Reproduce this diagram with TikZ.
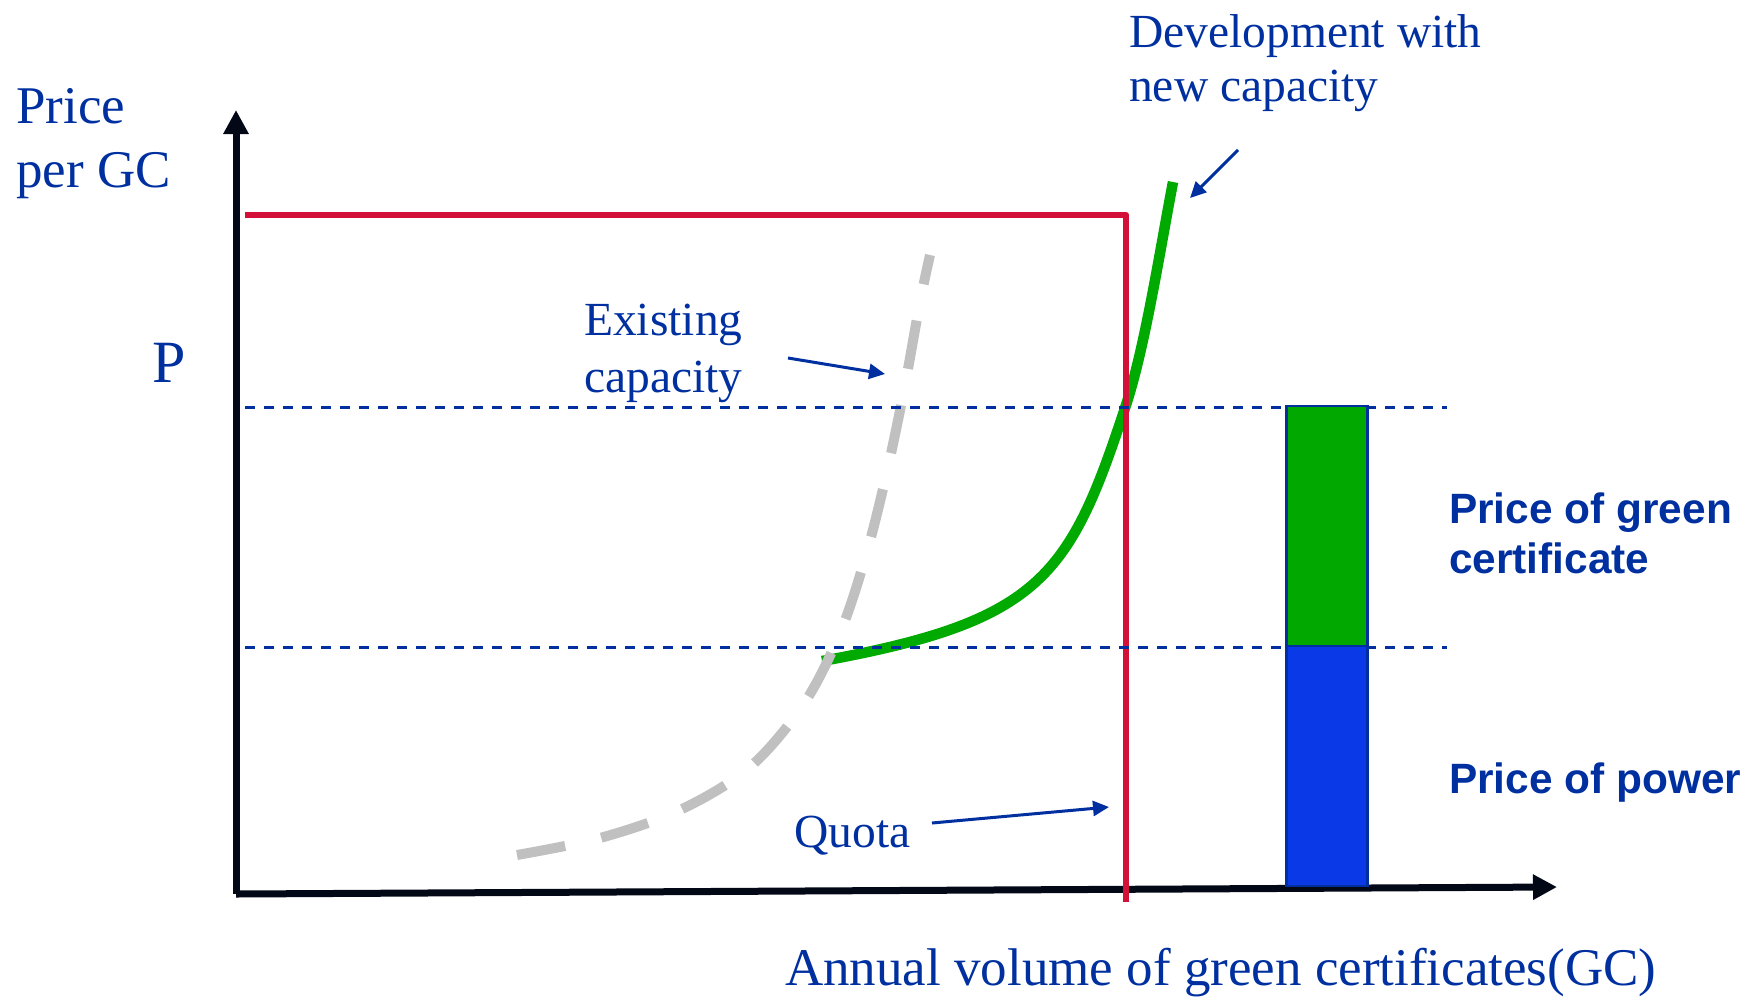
\documentclass[tikz,border=0pt]{standalone}
\usepackage{fontspec}
\setmainfont{Liberation Serif}
\newfontfamily\labelsans{Liberation Sans}
\usetikzlibrary{arrows.meta}
\definecolor{txtblue}{RGB}{0,48,160}
\definecolor{quotared}{RGB}{210,16,56}
\definecolor{curvegreen}{RGB}{0,170,0}
\definecolor{oldgray}{RGB}{192,192,192}
\definecolor{axisblack}{RGB}{2,8,22}
\definecolor{barblue}{RGB}{10,58,232}
\definecolor{bargreen}{RGB}{0,168,0}
\begin{document}
\begin{tikzpicture}[x=1pt,y=-1pt,
  txt/.style={text=txtblue, inner sep=0pt, anchor=base west},
  serif label/.style={txt, font=\fontsize{47.5}{56}\selectfont},
  axis label/.style={txt, font=\fontsize{53}{64}\selectfont},
  bold label/.style={txt, font=\labelsans\bfseries\fontsize{42.4}{50}\selectfont},
  axisline/.style={draw=axisblack, line width=7pt, -{Triangle[length=24pt,width=24pt]}},
  pointer/.style={draw=txtblue, line width=3pt, -{Triangle[length=16pt,width=15pt]}},
  guide/.style={draw=txtblue, line width=3pt, dash pattern=on 10pt off 9pt},
  barpart/.style={draw=txtblue, line width=2.5pt}]
\useasboundingbox (0,0) rectangle (1748,997);

% axes
\coordinate (origin) at (236,894);
\coordinate (ytip) at (236,110);
\coordinate (xtip) at (1557,887);
\draw[axisline] (origin) -- (ytip);
\draw[axisline] (origin) -- (xtip);

% supply curve with new capacity
\draw[curvegreen, line width=10.5pt]
  (822,661) .. controls (1042,621) and (1070,576) .. (1126,405)
  .. controls (1145,347) and (1160,250) .. (1173,182);

% supply curve of existing capacity
\draw[oldgray, line width=10pt, dash pattern=on 49pt off 37pt]
  plot[smooth, tension=0.55] coordinates {(517,855) (600,838) (680,810) (750,767) (805,702) (842,628) (868,548) (888,467) (905,385) (920,302) (930,255)};

% quota line
\draw[quotared, line width=6.5pt, line join=round]
  (245,215) -- (1126,215) -- (1126,902);

% price levels
\coordinate (pTopL) at (245,407);
\coordinate (pTopR) at (1447,407);
\coordinate (pLowL) at (245,647);
\coordinate (pLowR) at (1447,647);
\draw[guide] (pTopL) -- (pTopR);
\draw[guide] (pLowL) -- (pLowR);

% price composition bar
\node[barpart, fill=barblue, minimum width=81pt, minimum height=240pt, inner sep=0pt, anchor=south west] (powerbar) at (1285,887) {};
\node[barpart, fill=bargreen, minimum width=81pt, minimum height=240pt, inner sep=0pt, anchor=south west] (gcbar) at (1285,647) {};

% labels
\node[axis label] (ylab1) at (16,123) {Price};
\node[axis label] (ylab2) at (16,187) {per GC};
\node[txt, font=\fontsize{60}{70}\selectfont] (plab) at (152,382) {P};
\node[serif label] (dev1) at (1129,47) {Development with};
\node[serif label] (dev2) at (1129,101) {new capacity};
\node[serif label] (ex1) at (584,335) {Existing};
\node[serif label] (ex2) at (584,392) {capacity};
\node[serif label] (quota) at (794,847) {Quota};
\node[axis label] (xlab) at (785,985) {Annual volume of green certificates(GC)};
\node[bold label] (gclab1) at (1449,523) {Price of green};
\node[bold label] (gclab2) at (1449,573) {certificate};
\node[bold label] (pwlab) at (1449,793) {Price of power};

% pointers
\coordinate (devFrom) at (1238,150);
\coordinate (devTo) at (1190,198);
\coordinate (exFrom) at (788,358);
\coordinate (exTo) at (885,374);
\coordinate (qFrom) at (932,823);
\coordinate (qTo) at (1109,807);
\draw[pointer] (devFrom) -- (devTo);
\draw[pointer] (exFrom) -- (exTo);
\draw[pointer] (qFrom) -- (qTo);
\end{tikzpicture}
\end{document}
